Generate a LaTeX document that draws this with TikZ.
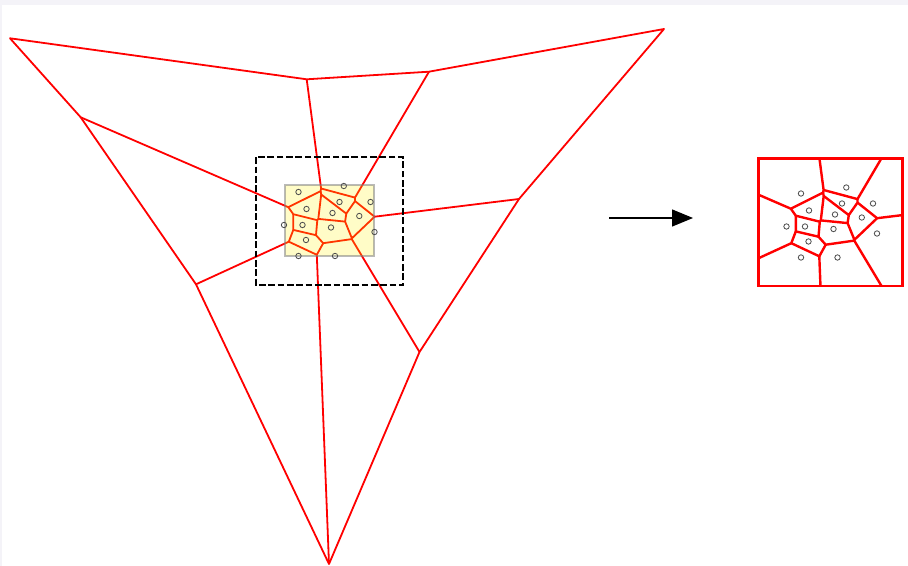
\documentclass[tikz,border=0pt]{standalone}
\usepackage{tikz}
\usetikzlibrary{arrows.meta}

\definecolor{vorred}{RGB}{255,0,0}
\definecolor{bandgray}{RGB}{244,243,248}

% sample points
\newcommand{\voronoisites}{%
  \foreach \px/\py in {298.5/192,343.8/186,339.5/202,370.5/202,306.5/209,
      332.5/213,359.3/216,284/225,302.5/225,331/227.5,374.5/232,
      306/240,298.5/256,335/256}
    \draw[site] (\px,\py) circle (2.7);
}

% cells of the points
\newcommand{\voronoicells}{%
  % far vertices
  \coordinate (k1) at (10,38.3);
  \coordinate (k2) at (664,29);
  \coordinate (o1) at (306.7,79.3);
  \coordinate (o2) at (429,71.7);
  \coordinate (o3) at (519,199);
  \coordinate (o4) at (419.5,352);
  \coordinate (o5) at (329,564);
  \coordinate (o6) at (196,284.3);
  \coordinate (o7) at (80.7,117.3);
  % inner vertices
  \coordinate (a1) at (321.1,188.5);
  \coordinate (a2) at (320.6,191.1);
  \coordinate (a3) at (321.2,194.5);
  \coordinate (b1) at (288.3,207.2);
  \coordinate (b2) at (293.3,214.2);
  \coordinate (s1) at (318.3,218.9);
  \coordinate (s2) at (317.3,220.2);
  \coordinate (c1) at (316,235.2);
  \coordinate (c2) at (323.2,243.2);
  \coordinate (d1) at (293.3,229.9);
  \coordinate (d2) at (288.8,241.7);
  \coordinate (e1) at (316.8,254.8);
  \coordinate (f1) at (355,197.6);
  \coordinate (f2) at (355,201.1);
  \coordinate (g1) at (346.3,213.6);
  \coordinate (g2) at (345.1,221.6);
  \coordinate (h1) at (351.9,238.3);
  \coordinate (h2) at (351.8,239.1);
  \coordinate (i1) at (374.6,216.7);
  \draw[vor] (o1) -- (a1) -- (a2) -- (b1) -- (o7);
  \draw[vor] (a2) -- (a3) -- (s1) -- (s2) -- (b2) -- (b1);
  \draw[vor] (o2) -- (f1) -- (a1);
  \draw[vor] (f1) -- (f2) -- (g1) -- (a3);
  \draw[vor] (f2) -- (i1) -- (o3);
  \draw[vor] (g1) -- (g2) -- (s1);
  \draw[vor] (g2) -- (h1) -- (i1);
  \draw[vor] (h1) -- (h2) -- (o4);
  \draw[vor] (s2) -- (c1) -- (c2) -- (h2);
  \draw[vor] (b2) -- (d1) -- (c1);
  \draw[vor] (d1) -- (d2) -- (o6);
  \draw[vor] (d2) -- (e1) -- (c2);
  \draw[vor] (e1) -- (o5);
}

\begin{document}
\begin{tikzpicture}[x=0.75pt,y=-0.75pt,
    vor/.style={vorred,line width=1.35pt,line join=round},
    site/.style={black!70,line width=0.6pt},
    zoombox/.style={black,dashed,line width=1.5pt,dash pattern=on 5pt off 2pt},
    hull/.style={fill=yellow,fill opacity=0.22,draw=gray,draw opacity=0.55,line width=1.5pt}]
  \useasboundingbox (0,0) rectangle (908,566);
  \fill[bandgray] (0,0) rectangle (908,5);
  \fill[bandgray] (0,0) rectangle (1.8,566);

  \voronoicells
  \draw[vor] (k1) -- (o1) -- (o2) -- (k2) -- (o3) -- (o4) -- (o5) -- (o6) -- (o7) -- cycle;
  \draw[hull] (284.5,185.5) rectangle (374,256);
  \voronoisites
  \draw[zoombox] (256,157.3) rectangle (403.3,285);

  % arrow
  \coordinate (tail) at (609,218);
  \coordinate (head) at (693,218);
  \draw[-{Triangle[length=15.75pt,width=12.75pt]},line width=1pt] (tail) -- (head);

  % zoomed view
  \begin{scope}[shift={(502.5,1.5)}]
    \clip (255.8,156.8) rectangle (400.2,284.5);
    \tikzset{vor/.append style={line width=1.8pt}}
    \voronoicells
    \voronoisites
  \end{scope}
  \draw[vorred,line width=2pt] (758.3,158.3) rectangle (902.7,286);
\end{tikzpicture}
\end{document}
